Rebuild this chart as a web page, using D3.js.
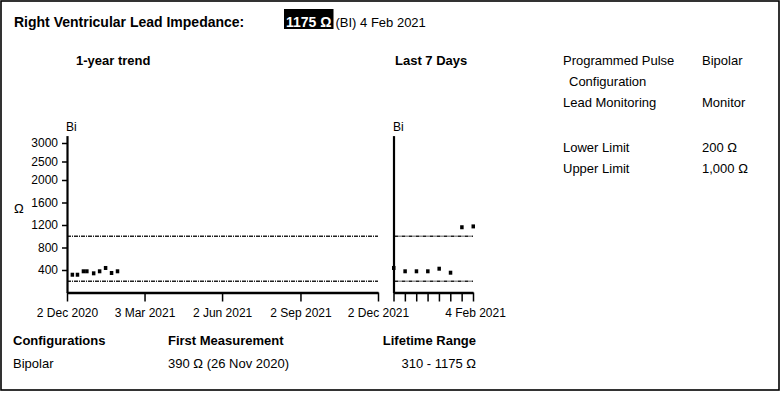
<!DOCTYPE html>
<html>
<head>
<meta charset="utf-8">
<script src="https://cdn.jsdelivr.net/npm/d3@7"></script>
<style>
  html, body { margin: 0; padding: 0; background: #fff; }
  svg { display: block; font-family: "Liberation Sans", Arial, sans-serif; }
</style>
</head>
<body>
<svg id="chart" width="781" height="393"></svg>
<script>
// ---- data ----
const trendDates = ["2020-12-08","2020-12-14","2020-12-21","2020-12-25","2021-01-02","2021-01-09","2021-01-16","2021-01-23","2021-01-30"];
const trendValues = [316, 316, 377, 377, 341, 377, 436, 347, 377];
const weekDates = ["2021-01-28","2021-01-29","2021-01-30","2021-01-31","2021-02-01","2021-02-02","2021-02-03","2021-02-04"];
const weekValues = [436, 377, 377, 377, 423, 352, 1160, 1175];
const yTicks = [400, 800, 1200, 1600, 2000, 2500, 3000];
const trendTickDates = ["2020-12-02","2021-03-03","2021-06-02","2021-09-02","2021-12-02"];
const trendTickLabels = ["2 Dec 2020","3 Mar 2021","2 Jun 2021","2 Sep 2021","2 Dec 2021"];
const weekTickLabel = "4 Feb 2021";
const limits = [200, 1000];
const infoLabels = ["Programmed Pulse", "Lead Monitoring", "Lower Limit", "Upper Limit"];
const infoValues = ["Bipolar", "Monitor", "200 Ω", "1,000 Ω"];

const parse = d3.utcParse("%Y-%m-%d");
const svg = d3.select("#chart");

// frame
svg.append("rect").attr("x", 1).attr("y", 1).attr("width", 778).attr("height", 389)
  .attr("fill", "#fff").attr("stroke", "#000").attr("stroke-width", 1.6);

// header
svg.append("text").attr("x", 14).attr("y", 27).attr("font-size", 14).attr("font-weight", "bold")
  .text("Right Ventricular Lead Impedance:");
const hl = svg.append("g");
const hlRect = hl.append("rect").attr("fill", "#000");
const hlText = hl.append("text").attr("x", 286).attr("y", 27).attr("font-size", 14)
  .attr("font-weight", "bold").attr("fill", "#fff").text("1175 Ω");
const hw = hlText.node().getComputedTextLength();
hlRect.attr("x", 284).attr("y", 9).attr("width", hw + 4).attr("height", 20);
svg.append("text").attr("x", 284 + hw + 6).attr("y", 27).attr("font-size", 13)
  .text("(BI) 4 Feb 2021");

svg.append("text").attr("x", 76).attr("y", 65).attr("font-size", 13).attr("font-weight", "bold").text("1-year trend");
svg.append("text").attr("x", 395).attr("y", 65).attr("font-size", 13).attr("font-weight", "bold").text("Last 7 Days");

// right info panel
const infoY = [65, 106.5, 151.5, 173];
infoLabels.forEach((t, i) => {
  svg.append("text").attr("x", 563).attr("y", infoY[i]).attr("font-size", 13).text(t);
  svg.append("text").attr("x", 702).attr("y", infoY[i]).attr("font-size", 13).text(infoValues[i]);
});
svg.append("text").attr("x", 569).attr("y", 86).attr("font-size", 13).text("Configuration");

// scales
const y = d3.scaleLinear().domain([0, 2000, 3200]).range([292.5, 180, 135.6]);
const xL = d3.scaleUtc().domain([parse("2020-12-02"), parse("2021-12-02")]).range([67, 378]);
const xR = d3.scaleUtc().domain([parse(weekDates[0]), parse(weekDates[weekDates.length - 1])]).range([393.5, 473]);

function styleAxis(g, w) {
  g.select(".domain").attr("stroke", "#000").attr("stroke-width", w);
  g.selectAll(".tick line").attr("stroke", "#000").attr("stroke-width", 1.5);
  g.selectAll(".tick text").attr("fill", "#000").attr("font-size", 12)
    .attr("font-family", "'Liberation Sans', Arial, sans-serif");
}

// limit lines
function limitLines(x0, x1) {
  limits.forEach(v => {
    svg.append("line").attr("x1", x0).attr("x2", x1).attr("y1", y(v)).attr("y2", y(v))
      .attr("stroke", "#222").attr("stroke-width", 1.6).attr("stroke-dasharray", "4,1,1,1");
  });
}
limitLines(xL.range()[0], xL.range()[1]);
limitLines(xR.range()[0] + 1, xR.range()[1]);

// left y axis
const gy = svg.append("g").attr("transform", "translate(67,0)")
  .call(d3.axisLeft(y).tickValues(yTicks).tickFormat(d3.format("d")).tickSize(5).tickSizeOuter(0).tickPadding(4));
styleAxis(gy, 2.2);

// right y axis (no ticks)
const gyR = svg.append("g").attr("transform", `translate(${xR.range()[0]},0)`)
  .call(d3.axisLeft(y).tickValues([]).tickSizeOuter(0));
styleAxis(gyR, 2.2);

// x axes
const gxL = svg.append("g").attr("transform", `translate(0,${y(0)})`)
  .call(d3.axisBottom(xL).tickValues(trendTickDates.map(parse))
    .tickFormat((d, i) => trendTickLabels[i]).tickSize(9).tickSizeOuter(0).tickPadding(7));
styleAxis(gxL, 2.4);

const gxR = svg.append("g").attr("transform", `translate(0,${y(0)})`)
  .call(d3.axisBottom(xR).tickValues(weekDates.map(parse))
    .tickFormat((d, i) => i === weekDates.length - 1 ? weekTickLabel : "").tickSize(9).tickSizeOuter(0).tickPadding(7));
styleAxis(gxR, 2.4);
gxR.selectAll(".tick text").attr("dx", 2);

// axis labels
svg.append("text").attr("x", 14).attr("y", 213).attr("font-size", 13).text("Ω");
svg.append("text").attr("x", 66).attr("y", 131).attr("font-size", 12).text("Bi");
svg.append("text").attr("x", 393).attr("y", 131).attr("font-size", 12).text("Bi");

// points
svg.append("g").selectAll("rect").data(trendDates).join("rect")
  .attr("x", (d) => xL(parse(d)) - 1.5).attr("y", (d, i) => y(trendValues[i]) - 2)
  .attr("width", 3.5).attr("height", 4).attr("fill", "#000");
svg.append("g").selectAll("rect").data(weekDates).join("rect")
  .attr("x", (d) => xR(parse(d)) - 1.5).attr("y", (d, i) => y(weekValues[i]) - 2)
  .attr("width", 3.5).attr("height", 4).attr("fill", "#000");

// bottom summary
svg.append("text").attr("x", 13).attr("y", 344.5).attr("font-size", 13).attr("font-weight", "bold").text("Configurations");
svg.append("text").attr("x", 168).attr("y", 344.5).attr("font-size", 13).attr("font-weight", "bold").text("First Measurement");
svg.append("text").attr("x", 476).attr("y", 344.5).attr("font-size", 13).attr("font-weight", "bold").attr("text-anchor", "end").text("Lifetime Range");
svg.append("text").attr("x", 13).attr("y", 367.5).attr("font-size", 13).text("Bipolar");
svg.append("text").attr("x", 168).attr("y", 367.5).attr("font-size", 13).text("390 Ω (26 Nov 2020)");
svg.append("text").attr("x", 476).attr("y", 367.5).attr("font-size", 13).attr("text-anchor", "end").text("310 - 1175 Ω");
</script>
</body>
</html>
